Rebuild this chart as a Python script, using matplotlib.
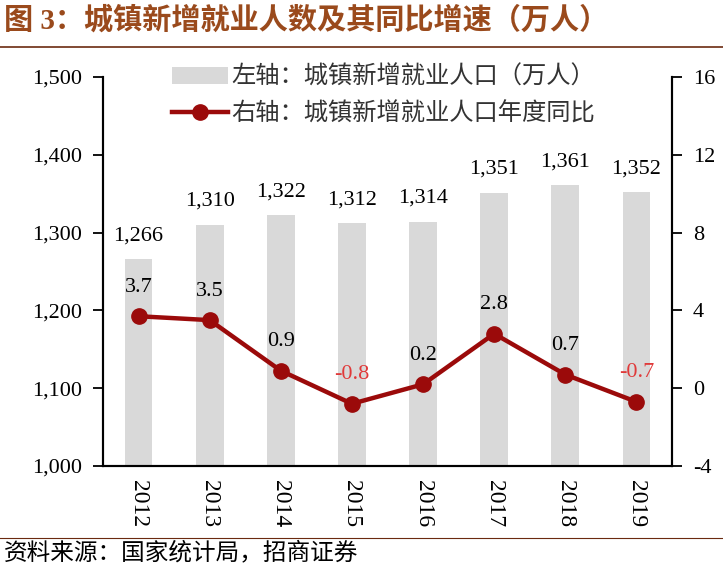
import matplotlib.pyplot as plt
from matplotlib.ticker import FuncFormatter

plt.rcParams['font.family'] = ['Liberation Serif', 'Noto Sans CJK SC']

years = ['2012', '2013', '2014', '2015', '2016', '2017', '2018', '2019']
jobs = [1266, 1310, 1322, 1312, 1314, 1351, 1361, 1352]
yoy = [3.7, 3.5, 0.9, -0.8, 0.2, 2.8, 0.7, -0.7]

bar_color = '#d9d9d9'
line_color = '#9b0a0a'
title_color = '#9a4a1c'

fig = plt.figure(figsize=(7.23, 5.67), dpi=100)
ax = fig.add_axes([103/723, 1-466/567, 569/723, 389/567])
ax2 = ax.twinx()

x = list(range(len(years)))
ax.bar(x, jobs, width=0.39, color=bar_color, label='左轴：城镇新增就业人口（万人）', zorder=1)
ax2.plot(x, yoy, color=line_color, lw=3.2, marker='o', markersize=11,
         label='右轴：城镇新增就业人口年度同比', zorder=3)

ax.set_xlim(-0.5, 7.5)
ax.set_ylim(1000, 1500)
ax.set_yticks(range(1000, 1501, 100))
ax.yaxis.set_major_formatter(FuncFormatter(lambda v, p: f'{int(v):,}'))
ax2.set_ylim(-4, 16)
ax2.set_yticks(range(-4, 17, 4))
ax2.yaxis.set_major_formatter(FuncFormatter(lambda v, p: f'{int(v)}'))

ax.set_xticks(x)
ax.set_xticklabels(years, rotation=-90, fontsize=17)
ax.tick_params(axis='x', length=0, pad=10)
ax.tick_params(axis='y', direction='out', length=7, width=1.3, labelsize=16, pad=8)
ax2.tick_params(axis='y', direction='out', length=7, width=1.3, labelsize=16, pad=8)

for a in (ax, ax2):
    a.spines['top'].set_visible(False)
    for s in ['left', 'right', 'bottom']:
        a.spines[s].set_linewidth(1.5)

for xi, v in zip(x, jobs):
    ax.annotate(f'{v:,}', (xi, v), xytext=(0, 10), textcoords='offset points',
                ha='center', va='bottom', fontsize=16)

for xi, v in zip(x, yoy):
    c = '#e03a3a' if v < 0 else 'black'
    ax2.annotate(f'{v}', (xi, v), xytext=(0, 14), textcoords='offset points',
                 ha='center', va='bottom', fontsize=16, color=c)

h1, l1 = ax.get_legend_handles_labels()
h2, l2 = ax2.get_legend_handles_labels()
leg = ax2.legend(h1 + h2, l1 + l2, loc='upper left', bbox_to_anchor=(0.083, 1.09),
                 frameon=False, handlelength=2.3, handletextpad=0.15,
                 labelspacing=0.45, prop={'family': 'Noto Sans CJK SC', 'size': 17.5})
for t in leg.get_texts():
    t.set_color('#333333')

fig.text(0.005, 1-20/567, '图 3：城镇新增就业人数及其同比增速（万人）', fontsize=21,
         fontweight='bold', color=title_color, va='center', ha='left',
         family=['Liberation Serif', 'Noto Sans CJK SC'])
fig.add_artist(plt.Line2D([0, 1], [1-47/567, 1-47/567], color='#6b2a10', lw=1.2))
fig.add_artist(plt.Line2D([0, 1], [1-538/567, 1-538/567], color='#6b2a10', lw=0.8))
fig.text(0.005, 1-553/567, '资料来源：国家统计局，招商证券', fontsize=17, va='center', ha='left',
         family=['Noto Sans CJK SC'])

fig.savefig('out.png', dpi=100)
